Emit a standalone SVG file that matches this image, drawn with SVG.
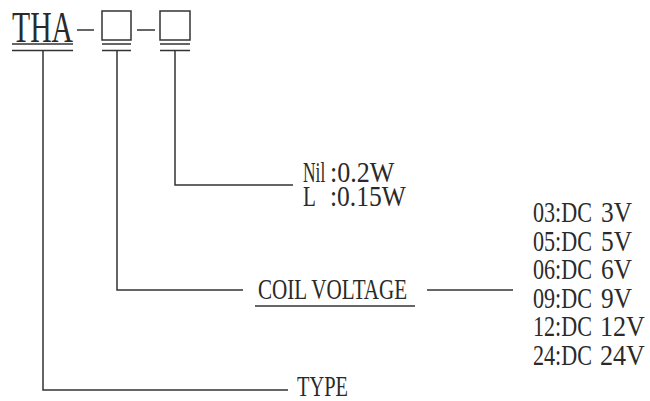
<svg xmlns="http://www.w3.org/2000/svg" width="650" height="401" viewBox="0 0 650 401">
<style>
.ln{stroke:#333;stroke-width:1.5;fill:none}
.t{font-family:"Liberation Serif","DejaVu Serif",serif;fill:#2a2a2a;font-size:29px}
.big{font-size:44px}
</style>
<rect width="650" height="401" fill="#fff"/>
<g id="code">
<text class="t big" transform="translate(12,42) scale(0.675,1)">THA</text>
<line class="ln" x1="12" y1="44" x2="73" y2="44"/>
<line class="ln" x1="12" y1="50.5" x2="73" y2="50.5"/>
<line class="ln" x1="77" y1="30" x2="94" y2="30"/>
<rect class="ln" x="102" y="11" width="29" height="29"/>
<line class="ln" x1="102" y1="44" x2="131" y2="44"/>
<line class="ln" x1="102" y1="50.5" x2="131" y2="50.5"/>
<line class="ln" x1="137" y1="30" x2="155" y2="30"/>
<rect class="ln" x="160" y="11" width="30" height="29"/>
<line class="ln" x1="160" y1="44" x2="190" y2="44"/>
<line class="ln" x1="160" y1="50.5" x2="190" y2="50.5"/>
</g>
<g id="connectors">
<polyline class="ln" points="43,50.5 43,390 288,390"/>
<polyline class="ln" points="117,50.5 117,290 243,290"/>
<polyline class="ln" points="175,50.5 175,185 293,185"/>
<line class="ln" x1="427" y1="290" x2="513" y2="290"/>
</g>
<g id="power">
<text class="t" transform="translate(303,182) scale(0.6,1)">Nil</text>
<text class="t" transform="translate(330,182) scale(0.9,1)">:0.2W</text>
<text class="t" transform="translate(303,206) scale(0.73,1)">L</text>
<text class="t" transform="translate(330,206) scale(0.88,1)">:0.15W</text>
</g>
<g id="coil">
<text class="t" transform="translate(258,299) scale(0.727,1)">COIL VOLTAGE</text>
<line class="ln" x1="255" y1="306" x2="415" y2="306"/>
</g>
<g id="voltages">
<text class="t" transform="translate(533,222) scale(0.763,1)">03:DC</text>
<text class="t" transform="translate(601,222) scale(0.875,1)">3V</text>
<text class="t" transform="translate(533,250.5) scale(0.763,1)">05:DC</text>
<text class="t" transform="translate(601,250.5) scale(0.875,1)">5V</text>
<text class="t" transform="translate(533,279) scale(0.763,1)">06:DC</text>
<text class="t" transform="translate(601,279) scale(0.875,1)">6V</text>
<text class="t" transform="translate(533,307.5) scale(0.763,1)">09:DC</text>
<text class="t" transform="translate(601,307.5) scale(0.875,1)">9V</text>
<text class="t" transform="translate(533,336) scale(0.763,1)">12:DC</text>
<text class="t" transform="translate(600,336) scale(0.9,1)">12V</text>
<text class="t" transform="translate(533,364.5) scale(0.763,1)">24:DC</text>
<text class="t" transform="translate(600,364.5) scale(0.9,1)">24V</text>
</g>
<g id="type">
<text class="t" transform="translate(297,396) scale(0.703,1)">TYPE</text>
</g>
</svg>
